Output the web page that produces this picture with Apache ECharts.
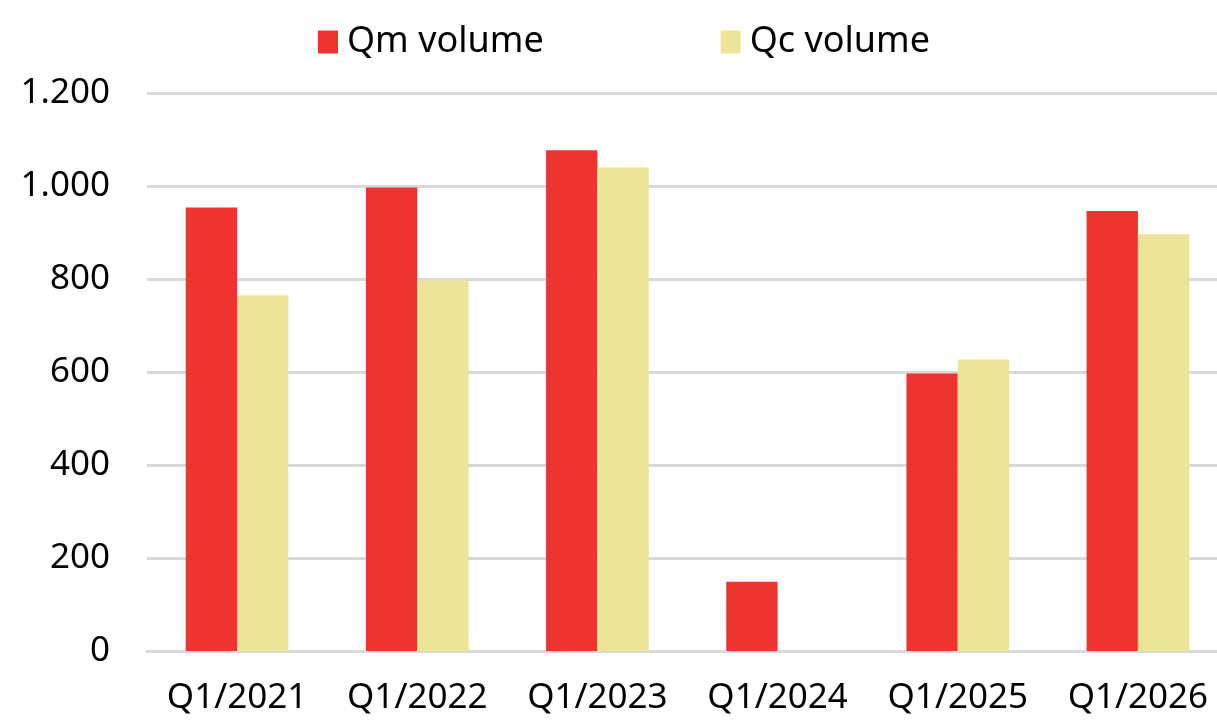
<!DOCTYPE html>
<html><head><meta charset="utf-8">
<script src="https://cdn.jsdelivr.net/npm/echarts@6/dist/echarts.min.js"></script>
<style>html,body{margin:0;padding:0;background:#fff;overflow:hidden;width:1217px;height:723px}#c{width:1228px;height:723px}</style>
</head><body><div id="c"></div>
<script>
const categories = ['Q1/2021','Q1/2022','Q1/2023','Q1/2024','Q1/2025','Q1/2026'];
const qmVolume = [954, 997, 1077, 149, 597, 946];
const qcVolume = [765, 797, 1040, 0, 627, 896];
const seriesNames = ['Qm volume','Qc volume'];
const yTicks = {min:0, max:1200, interval:200};

const chart = echarts.init(document.getElementById('c'));
const font = '"Noto Sans", "Open Sans", sans-serif';
chart.setOption({
  animation:false,
  legend:{
    top:19, left:313,
    icon:'rect',
    itemWidth:20, itemHeight:23, itemGap:177,
    textStyle:{fontFamily:font, fontSize:36, color:'#000', padding:[0,0,0,4]},
    data:seriesNames
  },
  grid:{left:147, top:93, right:0, height:558, containLabel:false},
  xAxis:{
    type:'category', data:categories,
    axisLine:{lineStyle:{color:'#d9d9d9', width:3}},
    axisTick:{show:false},
    axisLabel:{fontFamily:font, fontSize:35, color:'#000', margin:30, interval:0}
  },
  yAxis:{
    type:'value', min:yTicks.min, max:yTicks.max, interval:yTicks.interval,
    axisLine:{show:false}, axisTick:{show:false},
    splitLine:{lineStyle:{color:'#d9d9d9', width:3}},
    axisLabel:{fontFamily:font, fontSize:35, color:'#000', margin:37,
      formatter:v=>v.toString().replace(/\B(?=(\d{3})+(?!\d))/g,'.')}
  },
  series:[
    {name:seriesNames[0], type:'bar', data:qmVolume, itemStyle:{color:'#ee3431'}, barGap:'0%', barCategoryGap:'43%'},
    {name:seriesNames[1], type:'bar', data:qcVolume, itemStyle:{color:'#ece597'}, barGap:'0%', barCategoryGap:'43%'}
  ]
});
</script></body></html>
